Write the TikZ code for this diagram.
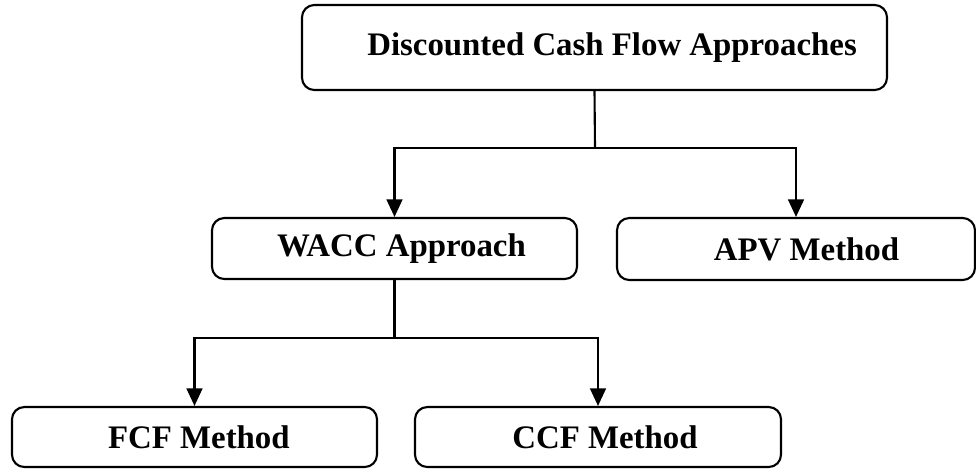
\documentclass[tikz,border=0pt]{standalone}
\usepackage{fontspec}
\setmainfont{Liberation Serif}
\usetikzlibrary{arrows.meta}

\begin{document}
\begin{tikzpicture}[x=0.02cm,y=-0.02cm,
  box/.style={draw,line width=1.2pt,rounded corners=7pt,inner sep=0pt,
    font=\bfseries\fontsize{18.7}{22}\selectfont},
  arr/.style={line width=1.2pt,-{Triangle[length=10pt,width=9pt]}}]
\useasboundingbox (0,0) rectangle (976,468);

\node[box,minimum width=585*0.02cm,minimum height=85*0.02cm] (dcf) at (594.5,47.5) {\hspace{20pt}Discounted Cash Flow Approaches};
\node[box,minimum width=365*0.02cm,minimum height=61*0.02cm] (wacc) at (394.5,248.5) {\hspace{8pt}WACC Approach};
\node[box,minimum width=358*0.02cm,minimum height=62*0.02cm] (apv) at (796,249) {\hspace{12pt}APV Method};
\node[box,minimum width=365*0.02cm,minimum height=60*0.02cm] (fcf) at (194.5,437) {\hspace{5pt}FCF Method};
\node[box,minimum width=366*0.02cm,minimum height=60*0.02cm] (ccf) at (598,437) {\hspace{8pt}CCF Method};

\coordinate (split1) at (595,148);
\coordinate (split2) at (394.5,338);

\draw[line width=1.2pt] (dcf.south) -- (split1);
\draw[arr] (split1) -| (wacc.north);
\draw[arr] (split1) -| (apv.north);

\draw[line width=1.2pt] (wacc.south) -- (split2);
\draw[arr] (split2) -| (fcf.north);
\draw[arr] (split2) -| (ccf.north);
\end{tikzpicture}
\end{document}
